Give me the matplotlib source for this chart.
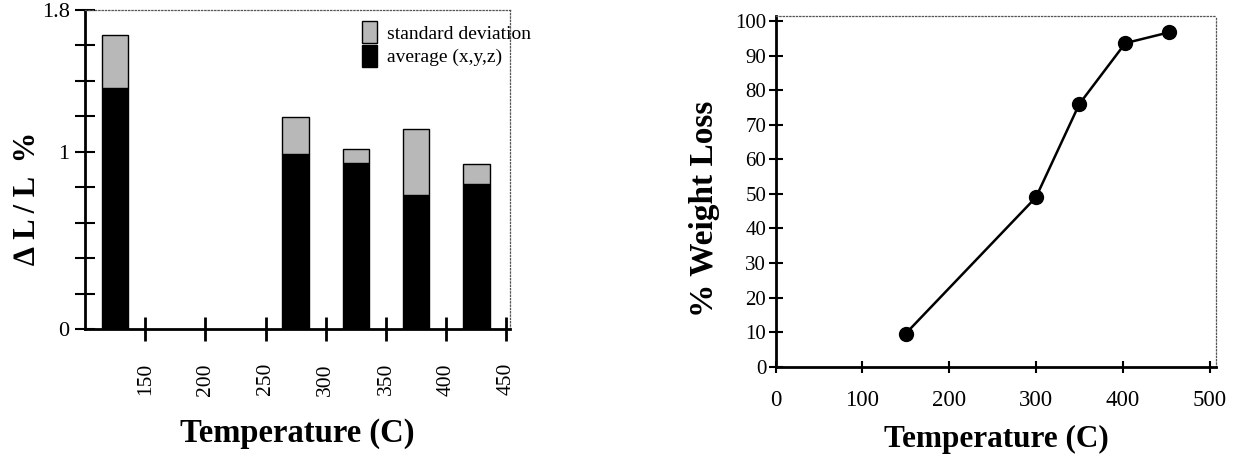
import matplotlib
import matplotlib.pyplot as plt
from matplotlib.patches import Patch

matplotlib.use('Agg')

plt.rcParams['font.family'] = ['Liberation Serif', 'DejaVu Serif']

# left panel: dimensional change per temperature
bar_temps = [125, 275, 325, 375, 425]
avg_change = [1.36, 0.985, 0.935, 0.755, 0.82]
std_change = [0.30, 0.21, 0.08, 0.375, 0.11]
left_xticks = [150, 200, 250, 300, 350, 400, 450]

# right panel: weight loss curve
loss_temps = [150, 300, 350, 403, 453]
weight_loss = [9.6, 49, 76, 93.6, 96.7]


def style_frame(ax):
    for side in ("left", "bottom"):
        ax.spines[side].set_linewidth(2)
    for side in ("top", "right"):
        ax.spines[side].set_linestyle(":")
        ax.spines[side].set_linewidth(0.9)
        ax.spines[side].set_color("#555555")


fig = plt.figure(figsize=(12.35, 4.57), dpi=100)

# ---- left: bar chart
ax1 = fig.add_axes([0.0688, 0.280, 0.344, 0.698])
ax1.bar(bar_temps, avg_change, width=22, color="black", edgecolor="black", linewidth=1)
ax1.bar(bar_temps, std_change, width=22, bottom=avg_change, color="#b8b8b8",
        edgecolor="black", linewidth=1)
ax1.set_xlim(100, 452.8)
ax1.set_ylim(0, 1.8)
ax1.set_xticks(left_xticks)
ax1.set_xticklabels([str(t) for t in left_xticks], rotation=90, fontsize=15.5)
ax1.set_yticks([0, 0.2, 0.4, 0.6, 0.8, 1, 1.2, 1.4, 1.6, 1.8])
ax1.set_yticklabels(["0", "", "", "", "", "1", "", "", "", "1.8"], fontsize=16)
ax1.tick_params(axis="x", direction="inout", length=17, width=2, pad=16)
ax1.tick_params(axis="y", direction="inout", length=14, width=1.5, pad=4)
style_frame(ax1)
ax1.set_xlabel("Temperature (C)", fontsize=23.5, fontweight="bold", va="top")
ax1.xaxis.set_label_coords(0.5, -0.28)
ax1.set_ylabel("\u2206 L / L  %", fontsize=22, fontweight="bold")
ax1.yaxis.set_label_coords(-0.10, 0.411)

handles = [Patch(facecolor="#b8b8b8", edgecolor="black", label="standard deviation"),
           Patch(facecolor="black", edgecolor="black", label="average (x,y,z)")]
ax1.legend(handles=handles, loc="upper left", bbox_to_anchor=(0.652, 0.965), frameon=False,
           fontsize=14, handlelength=0.75, handleheight=1.35, handletextpad=0.55,
           labelspacing=0.1, borderaxespad=0, borderpad=0)

# ---- right: line chart
ax2 = fig.add_axes([0.628, 0.1976, 0.357, 0.767])
ax2.plot(loss_temps, weight_loss, color="black", linewidth=1.8, marker="o", markersize=10)
ax2.set_xlim(0, 508)
ax2.set_ylim(0, 101.4)
ax2.set_xticks([0, 100, 200, 300, 400, 500])
ax2.set_yticks(range(0, 101, 10))
ax2.tick_params(axis="x", labelsize=16.5, direction="inout", length=9, width=1.5, pad=12)
ax2.tick_params(axis="y", labelsize=15, direction="inout", length=9.5, width=1.5, pad=2)
style_frame(ax2)
ax2.set_xlabel("Temperature (C)", fontsize=22.5, fontweight="bold", va="top")
ax2.xaxis.set_label_coords(0.5, -0.165)
ax2.set_ylabel("% Weight Loss", fontsize=24, fontweight="bold")
ax2.yaxis.set_label_coords(-0.125, 0.45)

fig.savefig("out.png", dpi=100)
